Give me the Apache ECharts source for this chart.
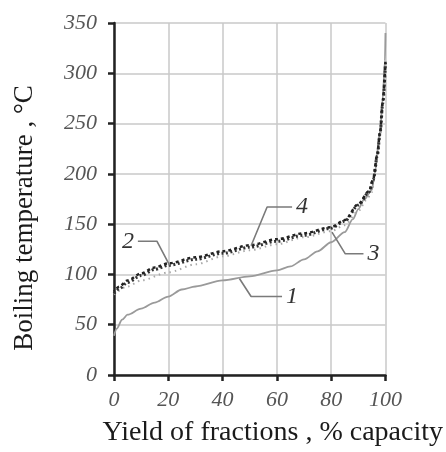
<!DOCTYPE html>
<html>
<head>
<meta charset="utf-8">
<script src="https://cdn.jsdelivr.net/npm/echarts@6/dist/echarts.min.js"></script>
<style>
  html, body { margin: 0; padding: 0; background: #fff; }
  #chart { width: 446px; height: 452px; }
</style>
</head>
<body>
<div id="chart"></div>
<script>
// Distillation curves: yield of fractions (% capacity) vs boiling temperature (°C)
const yieldTicks = [0, 20, 40, 60, 80, 100];
const tempTicks = [0, 50, 100, 150, 200, 250, 300, 350];

// Curve 1 (solid)
const yield1 = [0, 1, 3, 5, 10, 15, 20, 25, 30, 40, 50, 60, 65, 70, 75, 80, 85, 88, 90, 92, 95, 96, 98, 99, 99.8, 100];
const temp1  = [39, 46, 55, 60, 66, 72, 78, 85, 88, 94, 98, 104, 108, 115, 123, 132, 142, 155, 165, 174, 184, 200, 241, 275, 312, 340];

// Curve 2 (dark dotted)
const yield2 = [0, 2, 5, 10, 15, 20, 30, 40, 50, 60, 70, 80, 85, 90, 94, 95.5, 97, 98, 99, 100];
const temp2  = [81, 86, 92, 99, 105, 109, 115, 121, 127, 133, 139, 146, 153, 169, 182, 194, 218, 240, 270, 310];

// Curve 3 (light dotted)
const yield3 = [0, 5, 10, 20, 30, 40, 50, 60, 70, 80, 85, 90, 93, 95, 96, 98, 100];
const temp3  = [80, 88, 94, 102, 110, 118, 124, 130, 137, 143, 149, 163, 174, 182, 198, 238, 308];

// Curve 4 (dark dashed)
const yield4 = [0, 2, 5, 10, 15, 20, 30, 40, 50, 60, 70, 80, 85, 90, 94, 95.5, 97, 98, 99, 100];
const temp4  = [83, 88, 94, 101, 107, 111, 117, 123, 129, 135, 141, 147, 154, 170, 183, 195, 220, 241, 272, 312];

// Callout leaders (data coordinates): from the curve to the number label
const leaderNames = ['1', '2', '3', '4'];
const leaderX = [[46.2, 50.5, 61.9], [20.5, 15.8, 8.8], [80.3, 85.2, 91.9], [50.5, 56.4, 65.6]];
const leaderY = [[96, 78, 78], [109, 133, 133], [142, 120.5, 120.5], [128.5, 167, 167]];
const leaderSide = ['right', 'left', 'right', 'right'];

const pair = (xs, ys) => xs.map((x, i) => [x, ys[i]]);
const serif = '"Liberation Serif", "DejaVu Serif", serif';

function curve(name, xs, ys, style, z) {
  return {
    name, type: 'line', data: pair(xs, ys), showSymbol: false, symbol: 'none',
    smooth: 0.3, smoothMonotone: 'x', lineStyle: style, z: z, silent: true
  };
}

const leaderSeries = leaderNames.map((nm, k) => {
  const pts = pair(leaderX[k], leaderY[k]);
  const data = pts.map((p, i) => i === pts.length - 1
    ? { value: p, label: { show: true, position: leaderSide[k], distance: 4, formatter: nm } }
    : { value: p });
  return {
    type: 'line', data, symbol: 'circle', symbolSize: 0.01, showSymbol: true, silent: true,
    lineStyle: { color: '#7a7a7a', width: 1.6 }, itemStyle: { color: 'rgba(0,0,0,0)' },
    label: { fontFamily: serif, fontStyle: 'italic', fontSize: 24, color: '#333' },
    z: 5
  };
});

const chart = echarts.init(document.getElementById('chart'));
chart.setOption({
  backgroundColor: '#fff',
  animation: false,
  grid: { left: 114, right: 59, top: 23, bottom: 75 },
  xAxis: {
    type: 'value', min: 0, max: 100, interval: 20,
    name: 'Yield of fractions , % capacity', nameLocation: 'middle', nameGap: 44,
    nameTextStyle: { fontFamily: serif, fontSize: 28, color: '#1a1a1a', padding: [0, 0, 0, 46] },
    axisLine: { show: true, lineStyle: { color: '#222', width: 2.5 } },
    axisTick: { show: true, inside: false, length: 6, lineStyle: { color: '#222', width: 2.5 } },
    axisLabel: { margin: 14, fontFamily: serif, fontStyle: 'italic', fontSize: 22, color: '#555',
      formatter: v => yieldTicks.includes(v) ? String(v) : '' },
    splitLine: { show: true, lineStyle: { color: '#c8c8c8', width: 1.5 } }
  },
  yAxis: {
    type: 'value', min: 0, max: 350, interval: 50,
    name: 'Boiling temperature , °C', nameLocation: 'middle', nameGap: 76,
    nameTextStyle: { fontFamily: serif, fontSize: 27, color: '#1a1a1a', padding: [0, 38, 0, 0] },
    axisLine: { show: true, lineStyle: { color: '#222', width: 2.5 } },
    axisTick: { show: true, inside: false, length: 6, lineStyle: { color: '#222', width: 2.5 } },
    axisLabel: { margin: 17, fontFamily: serif, fontStyle: 'italic', fontSize: 22, color: '#555',
      formatter: v => tempTicks.includes(v) ? String(v) : '' },
    splitLine: { show: true, lineStyle: { color: '#c8c8c8', width: 1.5 } }
  },
  series: [
    curve('1', yield1, temp1, { color: '#9a9a9a', width: 1.8 }, 2),
    curve('3', yield3, temp3, { color: '#a8a8a8', width: 2, type: [1.5, 4] }, 3),
    curve('2', yield2, temp2, { color: '#333', width: 3, type: [2, 2.5] }, 4),
    curve('4', yield4, temp4, { color: '#222', width: 2.5, type: [3, 3], dashOffset: 2 }, 4)
  ].concat(leaderSeries)
});
</script>
</body>
</html>
